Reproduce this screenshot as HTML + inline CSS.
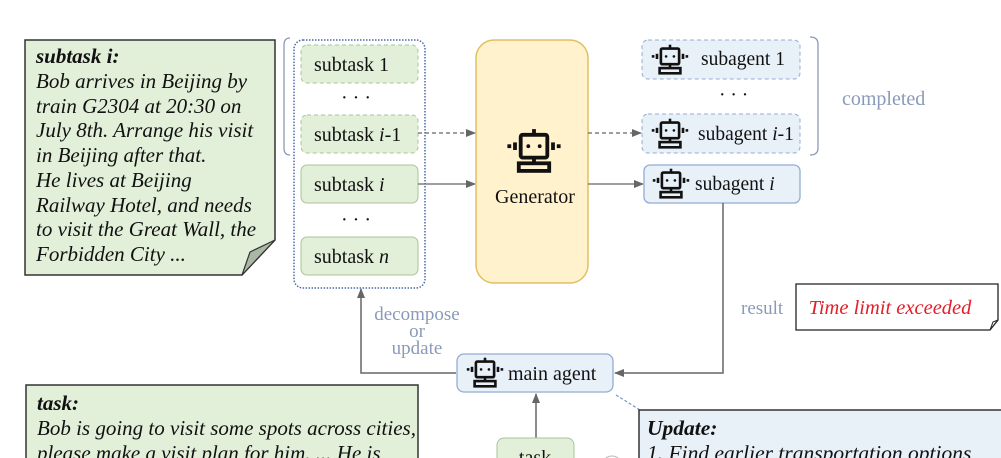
<!DOCTYPE html>
<html><head><meta charset="utf-8"><style>
html,body{margin:0;padding:0;background:#fff;width:1001px;height:458px;overflow:hidden}
svg text{font-family:"Liberation Serif",serif}
</style></head><body>
<svg width="1001" height="458" viewBox="0 0 1001 458" xmlns="http://www.w3.org/2000/svg">
<defs>
<marker id="ar" markerWidth="10" markerHeight="10" refX="9" refY="5" orient="auto" markerUnits="userSpaceOnUse"><path d="M0,1 L10,5 L0,9 z" fill="#666"/></marker>
<g id="bot" fill="none" stroke="#111" stroke-width="2">
<rect x="-7" y="-8" width="14" height="12" rx="1"/>
<circle cx="-3" cy="-2" r="1" fill="#111" stroke="none"/><circle cx="3" cy="-2" r="1" fill="#111" stroke="none"/>
<line x1="0" y1="-8" x2="0" y2="-11"/>
<line x1="-10" y1="-4" x2="-10" y2="0"/><line x1="10" y1="-4" x2="10" y2="0"/>
<line x1="-13" y1="-3" x2="-13" y2="-1"/><line x1="13" y1="-3" x2="13" y2="-1"/>
<line x1="0" y1="4" x2="0" y2="7"/>
<rect x="-8" y="7" width="16" height="4"/>
</g>
</defs>

<path d="M25,40 H275 V240 L242,275 H25 Z" fill="#e2efd9" stroke="#333" stroke-width="1.5"/>
<path d="M242,275 L250,252 L275,240 Z" fill="#aab7a4" stroke="#333" stroke-width="1.2"/>
<g font-size="21" font-style="italic" fill="#111">
<text x="36" y="63" font-weight="bold">subtask i:</text>
<text x="36" y="88">Bob arrives in Beijing by</text>
<text x="36" y="113">train G2304 at 20:30 on</text>
<text x="36" y="137">July 8th. Arrange his visit</text>
<text x="36" y="162">in Beijing after that.</text>
<text x="36" y="187">He lives at Beijing</text>
<text x="36" y="212">Railway Hotel, and needs</text>
<text x="36" y="236">to visit the Great Wall, the</text>
<text x="36" y="261">Forbidden City ...</text>
</g>

<path d="M290,38 Q284,38 284,45 V148 Q284,155 290,155" fill="none" stroke="#8a9ab8" stroke-width="1.3"/>
<rect x="294" y="40" width="131" height="248" rx="9" fill="none" stroke="#4a6aa8" stroke-width="1.5" stroke-dasharray="1.5,1.5"/>
<g font-size="20" fill="#111">
<rect x="301" y="45" width="117" height="38" rx="6" fill="#e2efd9" stroke="#a9c59a" stroke-dasharray="4,3"/>
<text x="314" y="71">subtask 1</text>
<text x="341" y="104">· · ·</text>
<rect x="301" y="115" width="117" height="38" rx="6" fill="#e2efd9" stroke="#a9c59a" stroke-dasharray="4,3"/>
<text x="314" y="141">subtask <tspan font-style="italic">i</tspan>-1</text>
<rect x="301" y="165" width="117" height="38" rx="6" fill="#e2efd9" stroke="#a9c59a"/>
<text x="314" y="191">subtask <tspan font-style="italic">i</tspan></text>
<text x="341" y="226">· · ·</text>
<rect x="301" y="237" width="117" height="38" rx="6" fill="#e2efd9" stroke="#a9c59a"/>
<text x="314" y="263">subtask <tspan font-style="italic">n</tspan></text>
</g>

<line x1="418" y1="133" x2="475" y2="133" stroke="#666" stroke-width="1.3" stroke-dasharray="4,3" marker-end="url(#ar)"/>
<line x1="418" y1="184" x2="475" y2="184" stroke="#666" stroke-width="1.3" marker-end="url(#ar)"/>

<rect x="476" y="40" width="112" height="243" rx="18" fill="#fff2cc" stroke="#e0c060" stroke-width="1.5"/>
<use href="#bot" transform="translate(534,150) scale(1.9)"/>
<text x="535" y="203" font-size="20" text-anchor="middle" fill="#111">Generator</text>

<line x1="588" y1="133" x2="641" y2="133" stroke="#666" stroke-width="1.3" stroke-dasharray="4,3" marker-end="url(#ar)"/>
<line x1="588" y1="184" x2="643" y2="184" stroke="#666" stroke-width="1.3" marker-end="url(#ar)"/>

<g font-size="19.5" fill="#111">
<rect x="642" y="40" width="158" height="39" rx="6" fill="#e8f0f8" stroke="#95acd4" stroke-dasharray="4,3"/>
<use href="#bot" transform="translate(670,59) scale(1.3)"/>
<text x="701" y="65">subagent 1</text>
<text x="719" y="101">· · ·</text>
<rect x="642" y="114" width="158" height="39" rx="6" fill="#e8f0f8" stroke="#95acd4" stroke-dasharray="4,3"/>
<use href="#bot" transform="translate(670,133) scale(1.3)"/>
<text x="698" y="140">subagent <tspan font-style="italic">i</tspan>-1</text>
<rect x="644" y="165" width="156" height="38" rx="6" fill="#e8f0f8" stroke="#95acd4" stroke-width="1.3"/>
<use href="#bot" transform="translate(671,183) scale(1.3)"/>
<text x="695" y="190">subagent <tspan font-style="italic">i</tspan></text>
</g>
<path d="M810,37 Q818,37 818,44 V148 Q818,155 810,155" fill="none" stroke="#8a9ab8" stroke-width="1.3"/>
<text x="842" y="105" font-size="20" fill="#8a9ab8">completed</text>

<polyline points="723,203 723,373 615,373" fill="none" stroke="#666" stroke-width="1.5" marker-end="url(#ar)"/>
<text x="741" y="314" font-size="19" fill="#8a9ab8">result</text>
<path d="M796,284 H998 V320 L990,330 H796 Z" fill="#fff" stroke="#222" stroke-width="1.3"/>
<path d="M990,330 L993,322 L998,320" fill="none" stroke="#222" stroke-width="1"/>
<text x="890" y="314" font-size="20.5" font-style="italic" fill="#e0202a" text-anchor="middle">Time limit exceeded</text>

<polyline points="456,373 361,373 361,289" fill="none" stroke="#666" stroke-width="1.5" marker-end="url(#ar)"/>
<g font-size="19" fill="#8a9ab8" text-anchor="middle">
<text x="417" y="320">decompose</text>
<text x="417" y="337">or</text>
<text x="417" y="354">update</text>
</g>
<rect x="457" y="354" width="156" height="38" rx="7" fill="#e8f0f8" stroke="#95acd4" stroke-width="1.3"/>
<use href="#bot" transform="translate(485,372) scale(1.3)"/>
<text x="508" y="380" font-size="20" fill="#111">main agent</text>
<line x1="616" y1="395" x2="640" y2="410" stroke="#7a94c0" stroke-width="1.2" stroke-dasharray="3,2"/>

<line x1="536" y1="438" x2="536" y2="394" stroke="#666" stroke-width="1.5" marker-end="url(#ar)"/>
<rect x="497" y="438" width="77" height="40" rx="7" fill="#e2efd9" stroke="#a9c59a"/>
<text x="535" y="464" font-size="20" fill="#111" text-anchor="middle">task</text>
<circle cx="612" cy="466" r="10" fill="none" stroke="#bbb"/>

<rect x="26" y="385" width="392" height="90" fill="#e2efd9" stroke="#333" stroke-width="1.5"/>
<g font-size="21" font-style="italic" fill="#111">
<text x="37" y="410" font-weight="bold">task:</text>
<text x="37" y="435">Bob is going to visit some spots across cities,</text>
<text x="37" y="460">please make a visit plan for him. ... He is</text>
</g>

<rect x="639" y="410" width="370" height="70" fill="#e8f0f8" stroke="#333" stroke-width="1.5"/>
<g font-size="21.5" font-style="italic" fill="#111">
<text x="647" y="435" font-weight="bold">Update:</text>
<text x="647" y="460">1. Find earlier transportation options</text>
</g>
</svg>
</body></html>
